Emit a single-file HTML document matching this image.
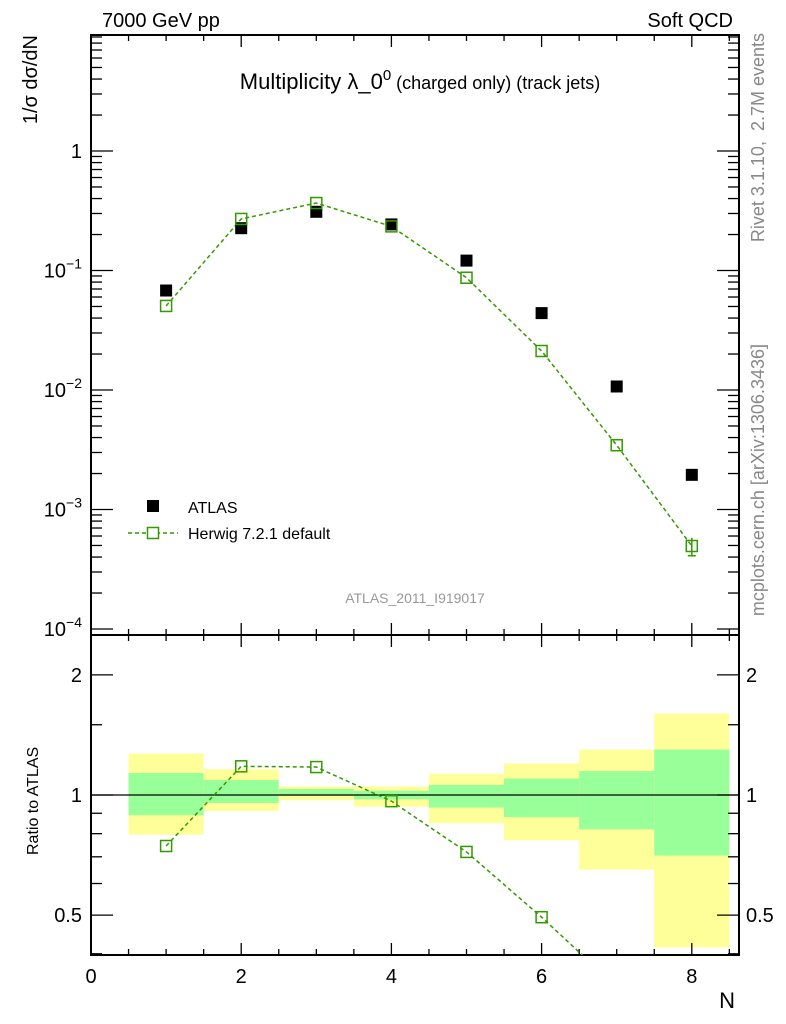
<!DOCTYPE html>
<html><head><meta charset="utf-8"><style>
body{margin:0;background:#fff}
svg{display:block;font-family:"Liberation Sans",sans-serif}
</style></head><body>
<svg id="c" width="786" height="1024"></svg>
<script>
const bins=[1,2,3,4,5,6,7,8];
const atlasVals=[0.068,0.226,0.31,0.243,0.121,0.044,0.0107,0.00195];
const herwigVals=[0.0505,0.27,0.367,0.234,0.087,0.0212,0.00345,0.000495];
const ratioVals=[0.745,1.18,1.175,0.965,0.72,0.494,0.33,0.25];
const yellowHi=[1.27,1.16,1.05,1.05,1.13,1.2,1.3,1.6];
const yellowLo=[0.795,0.912,0.97,0.935,0.85,0.77,0.65,0.415];
const greenHi=[1.135,1.09,1.035,1.025,1.06,1.1,1.148,1.3];
const greenLo=[0.89,0.955,0.995,0.975,0.93,0.88,0.82,0.705];
const xTicks=[0,2,4,6,8];

const NS="http://www.w3.org/2000/svg";
const svg=document.getElementById('c');
const L=91,R=739,T1=35,B1=635,T2=635,B2=955;
const X=v=>L+(v-0)*75.1;
const Y1=v=>151-Math.log10(v)*119.5;
const Y2=v=>795-Math.log10(v)*399;
function el(tag,a,parent){const e=document.createElementNS(NS,tag);for(const k in a)e.setAttribute(k,a[k]);(parent||svg).appendChild(e);return e;}
function txt(s,a,parent){const e=el('text',a,parent);e.textContent=s;return e;}

const defs=el('defs',{});
const c1=el('clipPath',{id:'cp1'},defs);el('rect',{x:L,y:T1,width:R-L,height:B1-T1},c1);
const c2=el('clipPath',{id:'cp2'},defs);el('rect',{x:L,y:T2,width:R-L,height:B2-T2},c2);

const gBand=el('g',{'clip-path':'url(#cp2)'});


bins.forEach((b,i)=>{
 const r=el('rect',{x:X(b-0.5),width:X(b+0.5)-X(b-0.5),y:Y2(yellowHi[i]),height:Y2(yellowLo[i])-Y2(yellowHi[i]),fill:'#ffff99'},gBand);
 
 
 const g=el('rect',{x:X(b-0.5),width:X(b+0.5)-X(b-0.5),y:Y2(greenHi[i]),height:Y2(greenLo[i])-Y2(greenHi[i]),fill:'#99ff99'},gBand);
 
 
});
el('line',{x1:L,x2:R,y1:Y2(1),y2:Y2(1),stroke:'#000','stroke-width':1.2});

el('rect',{x:L,y:T1,width:R-L,height:B1-T1,fill:'none',stroke:'#000','stroke-width':2});
el('rect',{x:L,y:T2,width:R-L,height:B2-T2,fill:'none',stroke:'#000','stroke-width':2});

for(let v=0;v<=8.5;v+=0.5){
 const major=(v%2===0), len=major?12:6;
 [[T1,1],[B1,-1],[T2,1],[B2,-1]].forEach(([y,d])=>el('line',{x1:X(v),x2:X(v),y1:y,y2:y+d*len,stroke:'#000','stroke-width':1.3}));
}
xTicks.forEach(v=>{const t=txt(String(v),{x:X(v),y:983,'font-size':20,'text-anchor':'middle'});});
txt('N',{x:735,y:1008,'font-size':22,'text-anchor':'end'});

for(let e=-4;e<=0;e++){
 for(let m=1;m<10;m++){
  const v=m*Math.pow(10,e), y=Y1(v); if(y<T1||y>B1)continue;
  const len=m===1?22:11;
  el('line',{x1:L,x2:L+len,y1:y,y2:y,stroke:'#000','stroke-width':1.3});
  el('line',{x1:R,x2:R-len,y1:y,y2:y,stroke:'#000','stroke-width':1.3});
 }
}
[0,-1,-2,-3,-4].forEach(e=>{
 const y=Y1(Math.pow(10,e))+7;
 const t=el('text',{x:82,y:y,'font-size':20,'text-anchor':'end'});
 
 
 if(e===0)t.textContent='1';else{t.textContent='10';const s=el('tspan',{dy:-9,'font-size':14},t);s.textContent='\u2212'+(-e);}
});
[0.4,0.5,0.6,0.7,0.8,0.9,1,1.5,2].forEach(v=>{
 const y=Y2(v), major=(v===0.5||v===1||v===2), len=major?22:11;
 el('line',{x1:L,x2:L+len,y1:y,y2:y,stroke:'#000','stroke-width':1.3});
 el('line',{x1:R,x2:R-len,y1:y,y2:y,stroke:'#000','stroke-width':1.3});
});
[[0.5,'0.5'],[1,'1'],[2,'2']].forEach(([v,s])=>{
 txt(s,{x:82,y:Y2(v)+7,'font-size':20,'text-anchor':'end'});
 txt(s,{x:746,y:Y2(v)+7,'font-size':20});
});

const gM=el('g',{'clip-path':'url(#cp1)'});
const hp=el('polyline',{points:bins.map((b,i)=>X(b)+','+Y1(herwigVals[i])).join(' '),fill:'none',stroke:'#339900','stroke-width':1.5,'stroke-dasharray':'4,3'},gM);


bins.forEach((b,i)=>{
 const a=el('rect',{x:X(b)-6,y:Y1(atlasVals[i])-6,width:12,height:12,fill:'#000'},gM);
 
 
});
el('line',{x1:X(8),x2:X(8),y1:Y1(0.00041),y2:Y1(0.00058),stroke:'#339900','stroke-width':1.5},gM);
el('line',{x1:X(8)-4,x2:X(8)+4,y1:Y1(0.00041),y2:Y1(0.00041),stroke:'#339900','stroke-width':1.5},gM);
bins.forEach((b,i)=>{
 const h=el('rect',{x:X(b)-5.5,y:Y1(herwigVals[i])-5.5,width:11,height:11,fill:'none',stroke:'#339900','stroke-width':1.5},gM);
 
 
});

const gR=el('g',{'clip-path':'url(#cp2)'});
const rp=el('polyline',{points:bins.map((b,i)=>X(b)+','+Y2(ratioVals[i])).join(' '),fill:'none',stroke:'#339900','stroke-width':1.5,'stroke-dasharray':'4,3'},gR);


bins.forEach((b,i)=>{
 const h=el('rect',{x:X(b)-5.5,y:Y2(ratioVals[i])-5.5,width:11,height:11,fill:'none',stroke:'#339900','stroke-width':1.5},gR);
 
 
});

txt('7000 GeV pp',{x:102,y:27,'font-size':20});
txt('Soft QCD',{x:733,y:27,'font-size':20,'text-anchor':'end'});
const tt=el('text',{x:420,y:89,'font-size':22,'text-anchor':'middle'});


tt.innerHTML='Multiplicity λ_0<tspan dy="-9" font-size="15">0</tspan><tspan dy="9" font-size="18"> (charged only) (track jets)</tspan>';
txt('1/σ dσ/dN',{x:0,y:0,'font-size':20,'text-anchor':'end',transform:'translate(37,35) rotate(-90)'});
txt('Ratio to ATLAS',{x:0,y:0,'font-size':16,'text-anchor':'start',transform:'translate(38,855) rotate(-90)'});
txt('Rivet 3.1.10,\u00a0\u00a02.7M events',{x:0,y:0,'font-size':18,fill:'#888','text-anchor':'end',transform:'translate(764,33) rotate(-90)'});
txt('mcplots.cern.ch [arXiv:1306.3436]',{x:0,y:0,'font-size':18,fill:'#888','text-anchor':'end',transform:'translate(764,344) rotate(-90)'});
txt('ATLAS_2011_I919017',{x:415,y:603,'font-size':14,fill:'#999','text-anchor':'middle'});
el('rect',{x:147,y:500,width:12,height:12,fill:'#000'});
txt('ATLAS',{x:188,y:513,'font-size':16});
el('line',{x1:128,x2:178,y1:533,y2:533,stroke:'#339900','stroke-width':1.5,'stroke-dasharray':'4,3'});
el('rect',{x:147.5,y:527.5,width:11,height:11,fill:'#fff',stroke:'#339900','stroke-width':1.5});
txt('Herwig 7.2.1 default',{x:188,y:539,'font-size':16});
</script>
</body></html>
